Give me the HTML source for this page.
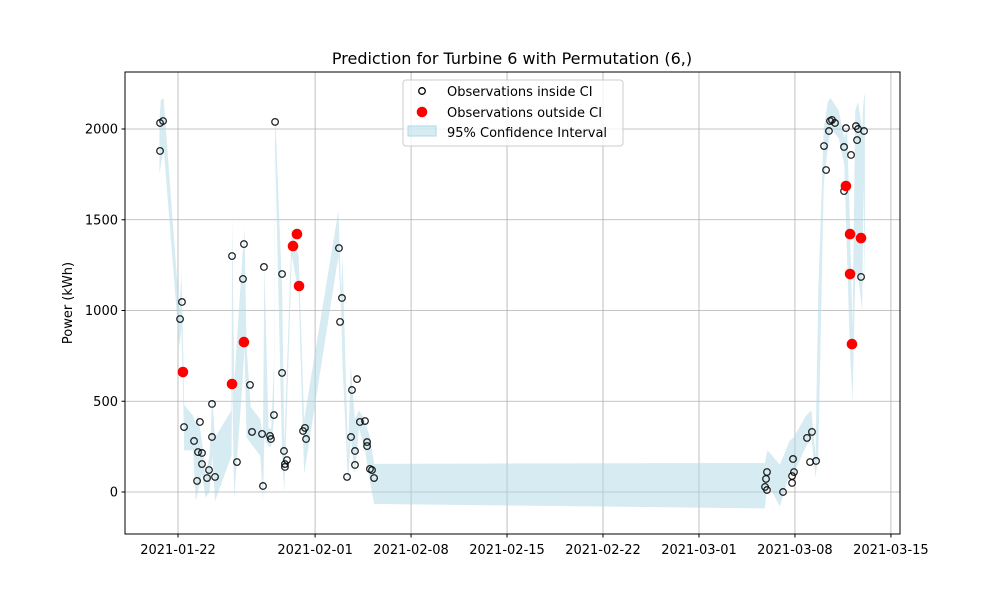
<!DOCTYPE html>
<html><head><meta charset="utf-8"><style>
body{margin:0;background:#fff;font-family:"Liberation Sans",sans-serif}
svg text{font-family:"DejaVu Sans","Liberation Sans",sans-serif}
</style></head><body>
<svg id="chart" width="1000" height="600" xmlns="http://www.w3.org/2000/svg">
<rect width="1000" height="600" fill="#fff"/>
<text x="512" y="64" text-anchor="middle" font-size="16">Prediction for Turbine 6 with Permutation (6,)</text>
<g id="grid"></g><g id="band"></g><g id="pts"></g><g id="axes"></g>
<text transform="translate(72,303) rotate(-90)" text-anchor="middle" font-size="13">Power (kWh)</text>
<g>
<rect x="403" y="80" width="220" height="66" fill="#fff" fill-opacity="0.8" stroke="#ccc" rx="3"/>
<circle cx="422" cy="91" r="3.3" fill="none" stroke="#000" stroke-width="1.3"/>
<text x="447" y="96" font-size="13">Observations inside CI</text>
<circle cx="422" cy="112" r="5.3" fill="red"/>
<text x="447" y="117" font-size="13">Observations outside CI</text>
<rect x="408" y="126" width="28" height="10" fill="#add8e6" fill-opacity="0.5" stroke="#add8e6"/>
<text x="447" y="137" font-size="13">95% Confidence Interval</text>
</g>
</svg>
<script>
// days since 2021-01-22
const inDays=[-1.31,-1.09,-1.31,0.29,0.15,0.44,1.60,1.17,1.46,1.75,1.75,1.39,2.48,2.48,2.26,2.12,2.70,3.94,4.81,4.74,5.25,4.30,5.40,6.13,6.27,6.71,6.78,6.20,7.00,7.08,7.59,7.59,7.73,7.95,7.80,7.80,9.26,9.12,9.34,11.74,11.96,11.82,12.69,13.06,12.62,12.91,12.91,12.33,13.27,13.64,13.79,13.79,14.00,14.15,14.30,
42.96,42.89,42.82,42.96,44.13,44.86,44.93,44.79,44.79,45.88,46.24,46.10,46.54,47.12,47.27,47.56,47.70,47.48,47.92,48.58,48.72,49.09,49.45,49.53,50.04,48.58,49.82,49.60];
const inVals=[2033,2044,1879,1047,953,358,386,281,220,215,154,61,485,303,121,77,83,1300,1366,1174,590,165,331,320,1240,309,292,33,424,2039,1201,656,226,176,154,138,353,336,292,1344,1069,937,562,622,303,226,149,83,386,391,275,253,127,121,77,
110,72,28,11,0,182,110,88,50,298,331,165,171,1906,1774,2044,2050,1989,2033,1901,2005,1857,2016,1939,1989,1658,1185,2000];
const outDays=[0.36,3.94,4.81,8.39,8.68,8.83,48.72,49.02,49.82,49.02,49.16];
const outVals=[661,595,826,1355,1421,1135,1686,1421,1399,1201,815];
const ciDays=[-1.35,-1.25,-1.05,0.1,0.25,0.4,0.45,1.1,1.3,1.45,1.75,2.0,2.3,2.5,2.7,3.9,3.95,4.1,4.7,4.85,5.0,5.3,6.0,6.2,6.3,6.6,6.8,7.0,7.08,7.6,7.75,8.3,8.8,9.2,11.7,11.9,12.0,12.4,12.6,12.9,13.2,13.6,14.0,14.3,14.4,42.8,43.0,43.9,44.6,44.9,45.8,46.2,46.5,46.7,47.1,47.4,47.6,48.2,48.6,48.8,49.0,49.2,49.4,49.6,49.9,50.0,50.1];
const ciLow=[1750,1800,1900,800,900,450,230,230,-50,0,100,-30,0,200,-50,200,600,-30,600,800,300,270,200,-50,300,250,250,400,1900,200,0,1300,1100,100,1300,1000,700,50,300,100,350,250,60,-66,-66,-90,50,-80,100,100,250,300,80,200,1700,1900,2000,1950,1800,1300,800,500,1200,1200,1000,1700,1100];
const ciHigh=[2050,2160,2170,1000,1200,700,480,420,380,420,280,80,200,520,300,450,1520,600,1300,1450,800,470,400,300,1250,350,350,700,2100,1100,250,1450,1300,400,1550,1100,1300,200,700,400,450,400,300,155,155,160,230,150,280,300,420,450,200,1100,2000,2150,2170,2100,1950,2000,1500,900,2100,2150,2000,2150,2200];
const yTicks=[0,500,1000,1500,2000];
const xTickDays=[0,10,17,24,31,38,45,52];
const xTickLabels=['2021-01-22','2021-02-01','2021-02-08','2021-02-15','2021-02-22','2021-03-01','2021-03-08','2021-03-15'];

const L=125,R=900,T=72,B=534;
const sx=d=>178+d*13.71;
const sy=v=>492-v*0.1815;
const NS='http://www.w3.org/2000/svg';
function mk(tag,attrs,parent){const e=document.createElementNS(NS,tag);for(const k in attrs)e.setAttribute(k,attrs[k]);parent.appendChild(e);return e;}
const grid=document.getElementById('grid'),axes=document.getElementById('axes'),band=document.getElementById('band'),pts=document.getElementById('pts');
yTicks.forEach(v=>{
  const g=mk('line',{x1:L,x2:R,y1:sy(v),y2:sy(v),stroke:'#b0b0b0','stroke-width':0.8},grid);
  
  
  mk('line',{x1:L-3.5,x2:L,y1:sy(v),y2:sy(v),stroke:'#000'},axes);
  const t=mk('text',{x:L-7,y:sy(v)+4.5,'text-anchor':'end','font-size':13},axes);
  t.textContent=v;
  
  
});
xTickDays.forEach((d,i)=>{
  const g=mk('line',{x1:sx(d),x2:sx(d),y1:T,y2:B,stroke:'#b0b0b0','stroke-width':0.8},grid);
  
  
  mk('line',{x1:sx(d),x2:sx(d),y1:B,y2:B+3.5,stroke:'#000'},axes);
  const t=mk('text',{x:sx(d),y:B+20,'text-anchor':'middle','font-size':13},axes);
  t.textContent=xTickLabels[i];
  
  
});
const r=mk('rect',{x:L,y:T,width:R-L,height:B-T,fill:'none',stroke:'#000','stroke-width':1},axes);


let p=ciDays.map((d,i)=>sx(d)+','+sy(ciHigh[i]));
for(let i=ciDays.length-1;i>=0;i--)p.push(sx(ciDays[i])+','+sy(ciLow[i]));
const poly=mk('polygon',{points:p.join(' '),fill:'#add8e6','fill-opacity':0.5,stroke:'none'},band);


inDays.forEach((d,i)=>{
  const c=mk('circle',{cx:sx(d),cy:sy(inVals[i]),r:3.3,fill:'none',stroke:'#000','stroke-width':1.3,'stroke-opacity':0.85},pts);
  
  
});
outDays.forEach((d,i)=>{
  const c=mk('circle',{cx:sx(d),cy:sy(outVals[i]),r:5.3,fill:'red'},pts);
  
  
});
</script>
</body></html>
